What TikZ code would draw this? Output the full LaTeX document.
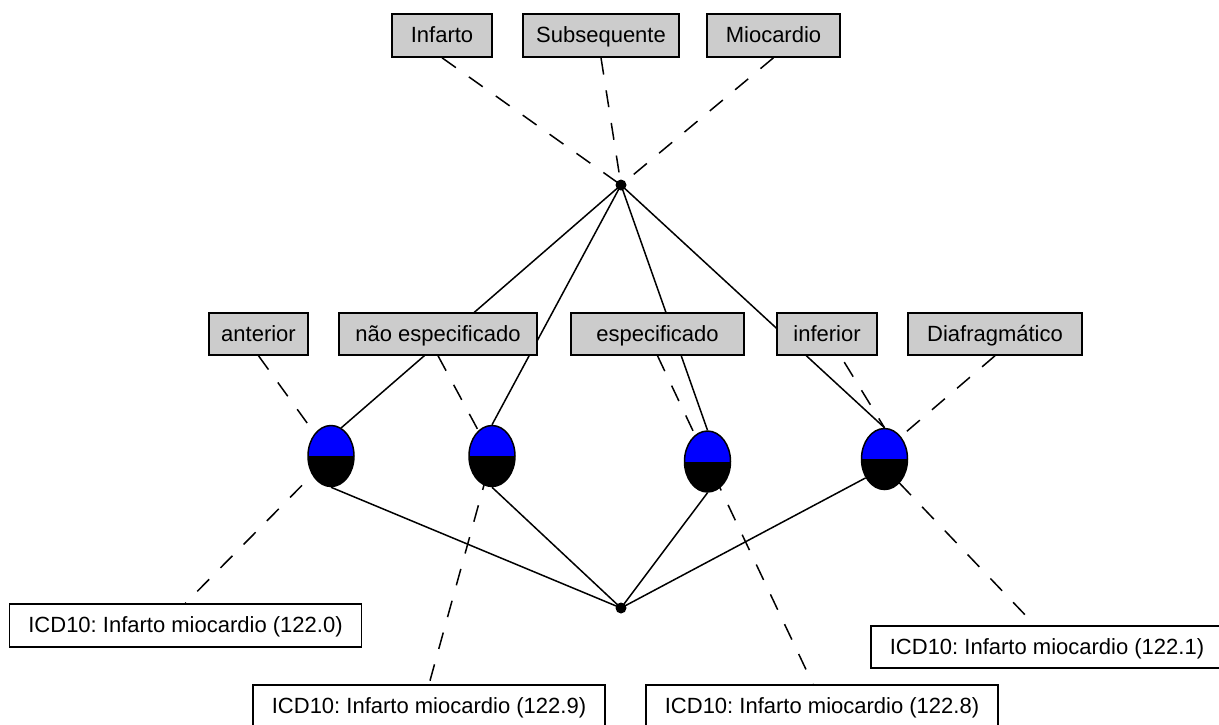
\documentclass[tikz,border=0pt]{standalone}
\usepackage{fontspec}
\setmainfont{Liberation Sans}
\usetikzlibrary{shapes.geometric,calc,backgrounds}
\definecolor{boxgray}{RGB}{204,204,204}
\frenchspacing
\begin{document}
\begin{tikzpicture}[x=1pt,y=-1pt,
  every node/.style={font=\fontsize{22}{26}\selectfont},
  term/.style={draw=black, line width=1.5pt, fill=boxgray, minimum height=43pt,
    inner sep=0pt, text height=16pt, text depth=2pt},
  code/.style={draw=black, line width=1.5pt, fill=white, minimum height=43pt,
    minimum width=352pt, inner sep=0pt, text height=16pt, text depth=2pt},
  concept/.style={ellipse, draw=black, line width=1.5pt, minimum width=46pt,
    minimum height=61pt, inner sep=0pt,
    path picture={
      \fill[blue] (path picture bounding box.north west) rectangle (path picture bounding box.east);
      \fill[black] (path picture bounding box.west) rectangle (path picture bounding box.south east);}},
  hub/.style={circle, fill=black, minimum size=11pt, inner sep=0pt},
  link/.style={line width=1.5pt},
  hint/.style={line width=1.5pt, dash pattern=on 17pt off 16pt},
]
\useasboundingbox (0,0) rectangle (1219,724);

% query terms
\node[term, minimum width=100pt] (t1) at (442,35.5) {Infarto};
\node[term, minimum width=156pt] (t2) at (601,35.5) {Subsequente};
\node[term, minimum width=133pt] (t3) at (773.5,35.5) {Miocardio};

% modifier terms
\node[term, minimum width=99pt, minimum height=42pt]  (ant) at (258.5,334) {anterior};
\node[term, minimum width=198pt, minimum height=42pt] (ne)  at (438,334) {não especificado};
\node[term, minimum width=173pt, minimum height=42pt] (es)  at (657.5,334) {especificado};
\node[term, minimum width=100pt, minimum height=42pt] (inf) at (827,334) {inferior};
\node[term, minimum width=174pt, minimum height=42pt] (dia) at (995,334) {Diafragmático};

% concepts
\node[concept] (e1) at (331,456) {};
\node[concept] (e2) at (492,456) {};
\node[concept] (e3) at (707.5,461.5) {};
\node[concept] (e4) at (884.5,459) {};

% hubs
\node[hub] (hubT) at (621,185) {};
\node[hub] (hubB) at (621,608) {};

% codes
\node[code] (b0) at (185.5,625.5) {ICD10: Infarto miocardio (122.0)};
\node[code] (b9) at (429,706.5) {ICD10: Infarto miocardio (122.9)};
\node[code] (b8) at (822,706.5) {ICD10: Infarto miocardio (122.8)};
\node[code, minimum height=42pt] (b1) at (1047,647) {ICD10: Infarto miocardio (122.1)};

\begin{scope}[on background layer]
  % query terms to the upper hub
  \draw[hint] (t1.south) -- (hubT.center);
  \draw[hint] (t2.south) -- (hubT.center);
  \draw[hint] (t3.south) -- (hubT.center);
  % upper hub to concepts
  \draw[link] (hubT.center) -- (e1.70);
  \draw[link] (hubT.center) -- (e2.north);
  \draw[link] (hubT.center) -- (e3.north);
  \draw[link] (hubT.center) -- (e4.north);
  % concepts to the lower hub
  \draw[link] (e1.south) -- (hubB.center);
  \draw[link] (e2.south) -- (hubB.center);
  \draw[link] (e3.south) -- (hubB.center);
  \draw[link] (e4.225) -- (hubB.center);
  % modifiers and codes
  \draw[hint] (ant.south) -- (e1.center) -- (b0.north);
  \draw[hint] (ne.south) -- (e2.center) -- (b9.north);
  \draw[hint] (es.south) -- (e3.center) -- ($(b8.north)+(-9,0)$);
  \draw[hint] (inf.center) -- (e4.north);
  \draw[hint] (dia.south) -- ($(e4.center)+(-10,0)$);
  \draw[hint] ($(e4.center)+(-8,0)$) -- ($(b1.north)+(-12,0)$);
\end{scope}
\end{tikzpicture}
\end{document}
